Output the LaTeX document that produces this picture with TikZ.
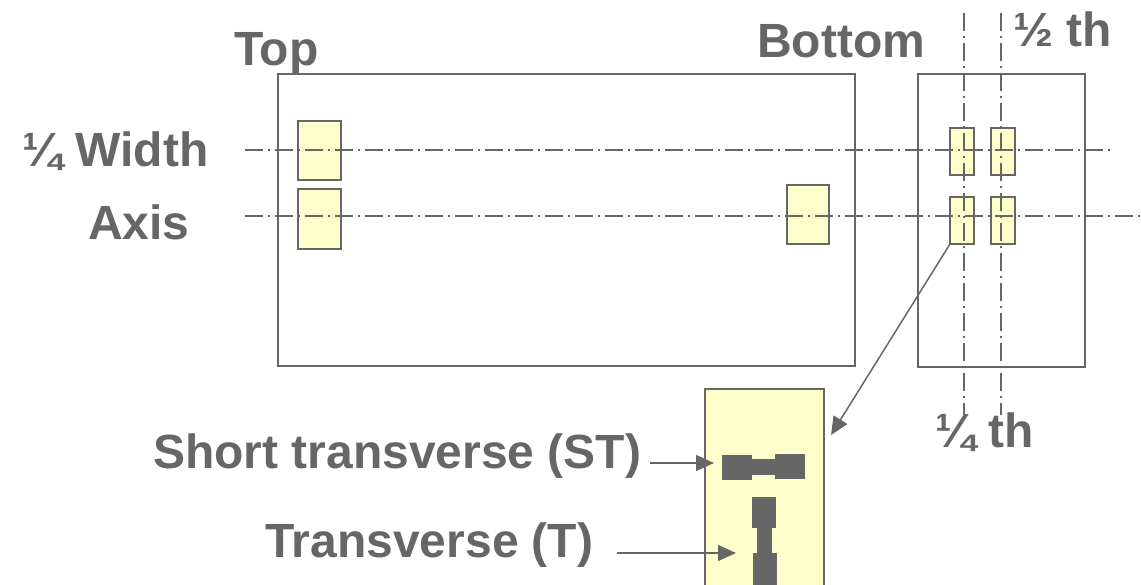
\documentclass[tikz,border=0pt]{standalone}
\usepackage{fontspec}
\setmainfont{Liberation Sans}
\usetikzlibrary{arrows.meta}
\definecolor{gr}{HTML}{666666}
\definecolor{ly}{HTML}{FFFFCC}
\tikzset{
 frame/.style={draw=gr, line width=1.5pt, inner sep=0pt, outer sep=0pt, anchor=north west},
 sample/.style={frame, fill=ly},
 grip/.style={fill=gr, inner sep=0pt, outer sep=0pt, anchor=north west},
 axisline/.style={draw=gr, line width=1.3pt, dash pattern=on 18pt off 5pt on 2pt off 5pt},
 lbl/.style={text=gr, font=\bfseries\fontsize{48}{52}\selectfont, anchor=base west, inner sep=0pt},
 arr/.style={draw=gr, line width=1.5pt, -{Triangle[length=18pt,width=16pt]}},
}
\begin{document}
\begin{tikzpicture}[x=1pt,y=-1pt]
\useasboundingbox (0,0) rectangle (1141,585);
\clip (0,0) rectangle (1141,585);
% frames
\node[frame, minimum width=577pt, minimum height=292pt] (topbox) at (278,74) {};
\node[frame, minimum width=167pt, minimum height=293pt] (botbox) at (918,74) {};
% samples in top view
\node[sample, minimum width=43pt, minimum height=59pt] (s1) at (298,121) {};
\node[sample, minimum width=43pt, minimum height=60pt] (s2) at (298,189) {};
\node[sample, minimum width=42pt, minimum height=59pt] (s3) at (787,185) {};
% samples in bottom view
\node[sample, minimum width=24pt, minimum height=47pt] (r1) at (950,128) {};
\node[sample, minimum width=24pt, minimum height=47pt] (r2) at (991,128) {};
\node[sample, minimum width=24pt, minimum height=47pt] (r3) at (950,197) {};
\node[sample, minimum width=24pt, minimum height=47pt] (r4) at (991,197) {};
% enlarged sample
\node[sample, minimum width=119pt, minimum height=220pt] (big) at (705,389) {};
% ST specimen
\node[grip, minimum width=30pt, minimum height=25pt] (stl) at (722,455) {};
\node[grip, minimum width=23pt, minimum height=16pt] (stm) at (752,459) {};
\node[grip, minimum width=30pt, minimum height=25pt] (str) at (775,454) {};
% T specimen
\node[grip, minimum width=24pt, minimum height=31pt] (tt) at (752,497) {};
\node[grip, minimum width=15pt, minimum height=25pt] (tm) at (757,528) {};
\node[grip, minimum width=24pt, minimum height=40pt] (tb) at (753,553) {};
% axis lines
\coordinate (h1a) at (245,150); \coordinate (h1b) at (1110,150);
\coordinate (h2a) at (245,216); \coordinate (h2b) at (1141,216);
\coordinate (v1a) at (964,13); \coordinate (v1b) at (964,415);
\coordinate (v2a) at (1001,13); \coordinate (v2b) at (1001,415);
\draw[axisline] (h1a) -- (h1b);
\draw[axisline] (h2a) -- (h2b);
\draw[axisline] (v1a) -- (v1b);
\draw[axisline] (v2a) -- (v2b);
% arrows
\coordinate (tipA) at (831,435);
\draw[arr] (r3.south west) -- (tipA);
\coordinate (stA) at (650,463); \coordinate (stB) at (714,463);
\draw[arr] (stA) -- (stB);
\coordinate (tA) at (617,553); \coordinate (tB) at (736,553);
\draw[arr] (tA) -- (tB);
% labels
\node[lbl] (ltop) at (234,66) {Top};
\node[lbl] (lbot) at (757,58) {Bottom};
\node[lbl] (lhalf) at (1013,47) {½ th};
\node[lbl] (lwidth) at (22,167) {¼ Width};
\node[lbl] (laxis) at (88,240) {Axis};
\node[lbl] (lq) at (935,447) {¼ th};
\node[lbl] (lst) at (153,468) {Short transverse (ST)};
\node[lbl] (lt) at (265,557) {Transverse (T)};
\end{tikzpicture}
\end{document}
